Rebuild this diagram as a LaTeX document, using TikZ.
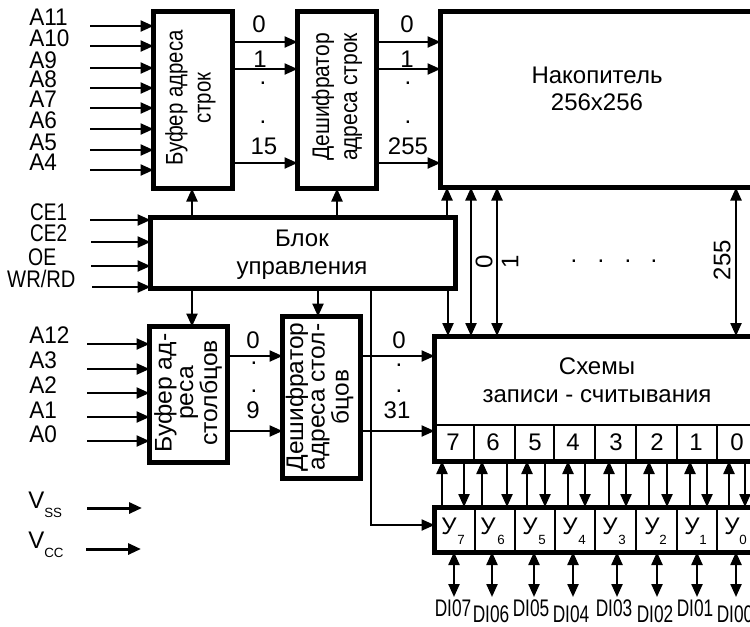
\documentclass[tikz,border=0pt]{standalone}
\usepackage{fontspec}
\setmainfont{Liberation Sans}
\usetikzlibrary{arrows.meta}
\def\pxu{0.75pt}
\newcommand{\lblfont}{\fontsize{18}{21}\selectfont}
\newcommand{\subfont}{\fontsize{10}{12}\selectfont}
\tikzset{
  x=0.75pt,y=-0.75pt,
  box/.style={draw=black,line width=5*\pxu,fill=white,rectangle,inner sep=0pt,outer sep=0pt,
    minimum width=#1},
  conn/.style={draw=black,line width=2.3*\pxu,-{Triangle[length=13*\pxu,width=11*\pxu]}},
  biconn/.style={draw=black,line width=2.3*\pxu,{Triangle[length=13*\pxu,width=11*\pxu]}-{Triangle[length=13*\pxu,width=11*\pxu]}},
  heavy/.style={conn,line width=3*\pxu},
  plainline/.style={draw=black,line width=2.2*\pxu},
  lab/.style={font=\lblfont,inner sep=0pt,anchor=base},
  labw/.style={font=\lblfont,inner sep=0pt,anchor=base west},
  sublab/.style={font=\subfont,inner sep=0pt,anchor=base west},
  vlab/.style={font=\lblfont,inner sep=0pt,rotate=90,align=center},
  vtight/.style={font=\fontsize{18}{16.2}\selectfont,inner sep=0pt,rotate=90,align=center},
}
\begin{document}
\begin{tikzpicture}
\useasboundingbox (0,0) rectangle (750,626);
\clip (0,0) rectangle (750,626);
% boxes
\node[box=79*\pxu,minimum height=177*\pxu] (bufr) at (193,100) {};
\node[box=79*\pxu,minimum height=177*\pxu] (decr) at (337,100) {};
\node[box=340*\pxu,minimum height=176*\pxu] (mem) at (610.5,99.5) {};
\node[box=305*\pxu,minimum height=71*\pxu] (ctl) at (303,253) {};
\node[box=78*\pxu,minimum height=136*\pxu] (bufc) at (188.5,394.5) {};
\node[box=78*\pxu,minimum height=162*\pxu] (decc) at (321.5,397.5) {};
\node[box=340*\pxu,minimum height=125*\pxu] (rw) at (604.5,398.5) {};
\node[box=340*\pxu,minimum height=45*\pxu] (ybox) at (604.5,529.5) {};
% box texts
\node[vlab,xscale=.85] (t1) at (190.5,98) {Буфер адреса\\строк};
\node[vlab,xscale=.875] (t2) at (337,97) {Дешифратор\\адреса строк};
\node[lab] (t3) at (597,83) {Накопитель};
\node[lab] (t4) at (597,110) {256x256};
\node[lab] (t5) at (302,246) {Блок};
\node[lab] (t6) at (302,274) {управления};
\node[vtight,xscale=1.03] (t7) at (188,393) {Буфер ад-\\реса\\столбцов};
\node[vtight,xscale=1.02] (t8) at (319.5,397) {Дешифратор\\адреса стол-\\бцов};
\node[lab] (t9) at (597,374) {Схемы};
\node[lab] (t10) at (597,402) {записи - считывания};
% address inputs row
\foreach \n/\txt/\b/\yy in {1/A11/25/26,2/A10/46/46,3/A9/68/68,4/A8/87/88,5/A7/107/108,6/A6/128/129,7/A5/150/150,8/A4/170/170}{
  \node[labw,xscale=.94] (ra\n) at (29,\b) {\txt};
  \coordinate (ri\n) at (90,\yy);
  \draw[conn] (ri\n) -- (ri\n -| bufr.west);
}
% control inputs
\foreach \n/\txt/\lx/\b/\yy/\sx/\sc in {1/CE1/30/220/220/90/.79,2/CE2/30/241/242/91/.79,3/OE/28/265/266/91/.81,4/WR\slash RD/7/287/287/92/.84}{
  \node[labw,xscale=\sc] (ca\n) at (\lx,\b) {\txt};
  \coordinate (ci\n) at (\sx,\yy);
  \draw[conn] (ci\n) -- (ci\n -| ctl.west);
}
% column address inputs
\foreach \n/\txt/\b/\yy in {1/A12/343/344,2/A3/368/369,3/A2/393/393,4/A1/418/417,5/A0/442/441}{
  \node[labw,xscale=.94] (aa\n) at (29,\b) {\txt};
  \coordinate (ai\n) at (87,\yy);
  \draw[conn] (ai\n) -- (ai\n -| bufc.west);
}
% power
\node[labw] (vs) at (28,508) {V};
\node[sublab] (vss) at (44,517) {SS};
\node[labw] (vc) at (28,548) {V};
\node[sublab] (vcc) at (44,557) {CC};
\coordinate (ps1) at (87,508); \coordinate (ps2) at (142,508);
\coordinate (pc1) at (86,549); \coordinate (pc2) at (141,549);
\draw[heavy] (ps1) -- (ps2);
\draw[heavy] (pc1) -- (pc2);
% row bus
\foreach \n/\yy in {1/42,2/69,3/163}{
  \coordinate (h\n) at (0,\yy);
  \draw[conn] (bufr.east |- h\n) -- (decr.west |- h\n);
  \draw[conn] (decr.east |- h\n) -- (mem.west |- h\n);
}
\node[lab] (l1) at (259,32) {0};
\node[lab] (l2) at (260,67) {1};
\node[lab] (l3) at (263,84) {.};
\node[lab] (l4) at (263,123) {.};
\node[lab] (l5) at (264,154) {15};
\node[lab] (l6) at (407,32) {0};
\node[lab] (l7) at (407,67) {1};
\node[lab] (l8) at (408,84) {.};
\node[lab] (l9) at (408,123) {.};
\node[lab] (l10) at (408,154) {255};
% control links
\coordinate (v1) at (192,0); \coordinate (v2) at (337,0); \coordinate (v3) at (447,0);
\coordinate (v4) at (318,0); \coordinate (v5) at (448,0);
\draw[conn] (v1 |- ctl.north) -- (v1 |- bufr.south);
\draw[conn] (v2 |- ctl.north) -- (v2 |- decr.south);
\draw[conn] (v3 |- ctl.north) -- (v3 |- mem.south);
\draw[conn] (v1 |- ctl.south) -- (v1 |- bufc.north);
\draw[conn] (v4 |- ctl.south) -- (v4 |- decc.north);
\draw[conn] (v5 |- ctl.south) -- (v5 |- rw.north);
\coordinate (v6) at (371,0); \coordinate (h6) at (0,525);
\draw[conn] (v6 |- ctl.south) -- (v6 |- h6) -- (ybox.west |- h6);
% memory to read/write
\foreach \n/\xx in {1/471,2/497,3/736}{
  \coordinate (m\n) at (\xx,0);
  \draw[biconn] (m\n |- mem.south) -- (m\n |- rw.north);
}
\node[vlab] (n0) at (484,262) {0};
\node[vlab] (n1) at (510,262) {1};
\node[vlab] (n2) at (722,260) {255};
\foreach \n/\xx in {1/574,2/601,3/628,4/654}{
  \node[lab] (dd\n) at (\xx,262) {.};
}
% column bus
\foreach \n/\yy in {1/356,2/431}{
  \coordinate (k\n) at (0,\yy);
  \draw[conn] (bufc.east |- k\n) -- (decc.west |- k\n);
  \draw[conn] (decc.east |- k\n) -- (rw.west |- k\n);
}
\node[lab] (c1) at (253,348) {0};
\node[lab] (c2) at (254,364) {.};
\node[lab] (c3) at (254,392) {.};
\node[lab] (c4) at (253,418) {9};
\node[lab] (c5) at (399,348) {0};
\node[lab] (c6) at (399,366) {.};
\node[lab] (c7) at (399,392) {.};
\node[lab] (c8) at (397,418) {31};
% read/write cells
\draw[plainline] (436,425) -- (750,425);
\foreach \xx in {474,515,554,595,636,677,717}{
  \draw[plainline] (\xx,425) -- (\xx,459);
}
\foreach \n/\txt/\xx in {a/7/453,b/6/493,c/5/535,d/4/573,e/3/616,f/2/657,g/1/696,h/0/737}{
  \node[lab] (cell\n) at (\xx,450) {\txt};
}
% amplifier cells
\foreach \xx in {475,515,555,595,636,677,717}{
  \draw[plainline] (\xx,509) -- (\xx,550);
}
\foreach \n/\txt/\xx/\sx in {a/7/449/457,b/6/488/497,c/5/530/538,d/4/570/578,e/3/610/618,f/2/652/659,g/1/692/699,h/0/732/739}{
  \node[lab] (y\n) at (\xx,534) {У};
  \node[sublab] (ys\n) at (\sx,544) {\txt};
}
% vertical arrows between rw and y
\foreach \n/\xx in {a/442,b/482,c/527,d/568,e/609,f/649,g/690,h/729}{
  \coordinate (u\n) at (\xx,0);
  \draw[conn] (u\n |- ybox.north) -- (u\n |- rw.south);
}
\foreach \n/\xx in {a/464,b/507,c/545,d/585,e/626,f/667,g/707,h/745}{
  \coordinate (w\n) at (\xx,0);
  \draw[conn] (w\n |- rw.south) -- (w\n |- ybox.north);
}
% data lines
\foreach \n/\xx/\lx/\b/\txt in {a/454/453/616/DI07,b/492/491/622/DI06,c/534/531/616/DI05,d/573/571/622/DI04,e/617/614/616/DI03,f/657/655/622/DI02,g/697/695/616/DI01,h/736/735/622/DI00}{
  \coordinate (e\n) at (\xx,597);
  \draw[biconn] (e\n |- ybox.south) -- (e\n);
  \node[lab,xscale=.72] (di\n) at (\lx,\b) {\txt};
}
\end{tikzpicture}
\end{document}
